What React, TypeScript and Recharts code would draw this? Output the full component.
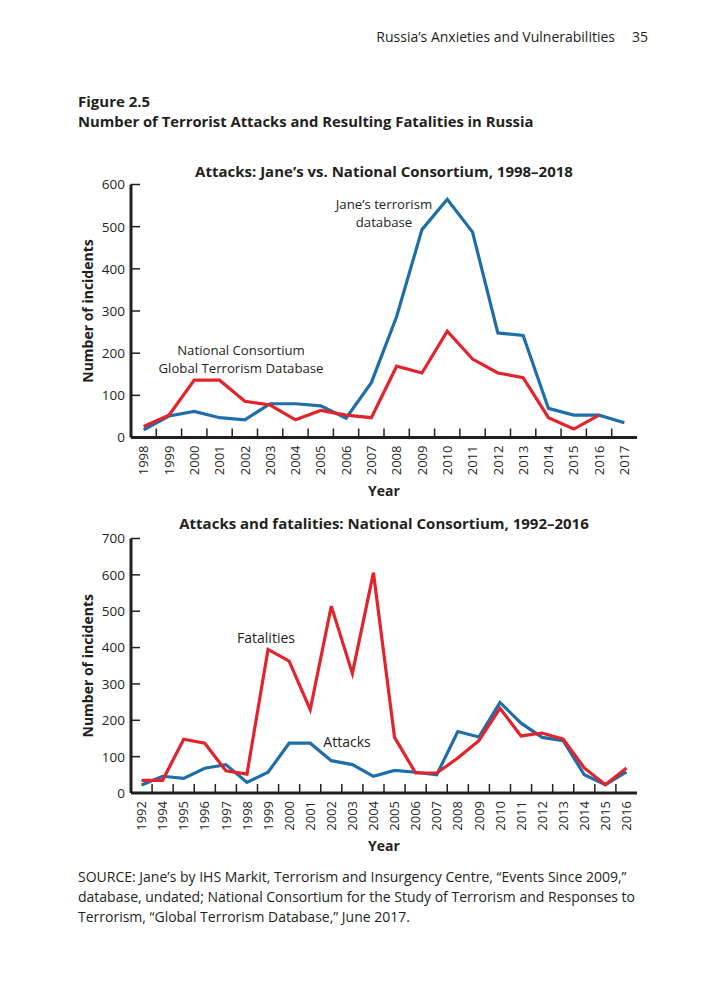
import React from 'react';
import { LineChart, Line, XAxis, YAxis } from 'recharts';

const INK = '#231f20';
const BLUE = '#1f6ea8';
const RED = '#e1242d';
const FONT = '"Open Sans", "Noto Sans", sans-serif';

// Top chart: Jane's vs. National Consortium, 1998–2017
const topYears = ['1998', '1999', '2000', '2001', '2002', '2003', '2004', '2005', '2006', '2007', '2008', '2009', '2010', '2011', '2012', '2013', '2014', '2015', '2016', '2017'];
const janesAttacks = [18, 51, 62, 47, 42, 80, 80, 75, 46, 130, 287, 493, 565, 487, 248, 242, 69, 53, 53, 35];
const gtdAttacksTop: (number | null)[] = [26, 53, 136, 136, 86, 77, 42, 64, 53, 47, 169, 153, 252, 186, 153, 142, 47, 20, 53, null];
const topYTicks = [0, 100, 200, 300, 400, 500, 600];

// Bottom chart: National Consortium attacks and fatalities, 1992–2016
const bottomYears = ['1992', '1994', '1995', '1996', '1997', '1998', '1999', '2000', '2001', '2002', '2003', '2004', '2005', '2006', '2007', '2008', '2009', '2010', '2011', '2012', '2013', '2014', '2015', '2016'];
const gtdAttacks = [22, 46, 40, 68, 78, 29, 57, 137, 137, 89, 78, 46, 62, 57, 50, 169, 154, 249, 192, 153, 144, 50, 23, 58];
const gtdFatalities = [35, 35, 148, 137, 61, 52, 395, 363, 229, 514, 329, 606, 153, 55, 55, 96, 144, 233, 157, 165, 148, 69, 23, 69];
const bottomYTicks = [0, 100, 200, 300, 400, 500, 600, 700];

const topData = topYears.map((year, i) => ({ year, janes: janesAttacks[i], gtd: gtdAttacksTop[i] }));
const bottomData = bottomYears.map((year, i) => ({ year, attacks: gtdAttacks[i], fatalities: gtdFatalities[i] }));

const PLOT_W = 506;

const makeXTick = (step: number, n: number) => (props: any) => {
  const { x, y, payload, index } = props;
  const axisY = y - 8;
  return (
    <g>
      {index < n - 1 && (
        <line x1={x + step / 2} x2={x + step / 2} y1={axisY} y2={axisY - 9} stroke={INK} strokeWidth={1.5} />
      )}
      <text
        x={x}
        y={y}
        transform={`rotate(-90, ${x}, ${y})`}
        textAnchor="end"
        dy="0.36em"
        fontSize={13}
        fill={INK}
        fontFamily={FONT}
      >
        {payload.value}
      </text>
    </g>
  );
};

const YTick = (props: any) => {
  const { x, y, payload } = props;
  const axisX = x + 6;
  return (
    <g>
      <line x1={axisX} x2={axisX + 9} y1={y} y2={y} stroke={INK} strokeWidth={1.5} />
      <text x={x} y={y} textAnchor="end" dy="0.36em" fontSize={13.5} fill={INK} fontFamily={FONT}>
        {payload.value}
      </text>
    </g>
  );
};

const abs = (s: React.CSSProperties): React.CSSProperties => ({
  position: 'absolute',
  fontFamily: FONT,
  color: INK,
  margin: 0,
  whiteSpace: 'nowrap',
  fontVariantLigatures: 'none',
  ...s,
});

function Chart(props: {
  data: any[];
  n: number;
  top: number;
  domainMax: number;
  ticks: number[];
  plotTop: number;
  plotH: number;
  series: { key: string; color: string }[];
}) {
  const { data, n, top, domainMax, ticks, plotTop, plotH, series } = props;
  const step = PLOT_W / n;
  const height = 360;
  const marginTop = plotTop - top;
  const xAxisH = 60;
  const marginBottom = height - marginTop - plotH - xAxisH;
  return (
    <div style={{ position: 'absolute', left: 0, top }}>
      <LineChart
        width={728}
        height={height}
        data={data}
        margin={{ top: marginTop, right: 91, bottom: marginBottom, left: 71 }}
      >
        <XAxis
          dataKey="year"
          type="category"
          interval={0}
          padding={{ left: step / 2, right: step / 2 }}
          height={xAxisH}
          tickSize={0}
          tickMargin={8}
          tickLine={false}
          tick={makeXTick(step, n)}
          axisLine={{ stroke: INK, strokeWidth: 3 }}
          label={{
            value: 'Year',
            position: 'insideBottom',
            offset: 2,
            style: { fontFamily: FONT, fontWeight: 700, fontSize: 14, fill: INK },
          }}
        />
        <XAxis
          xAxisId="top"
          dataKey="year"
          orientation="top"
          height={0}
          tick={false}
          tickLine={false}
          axisLine={{ stroke: INK, strokeWidth: 1.5 }}
        />
        <YAxis
          domain={[0, domainMax]}
          ticks={ticks}
          interval={0}
          width={60}
          tickSize={0}
          tickMargin={6}
          tickLine={false}
          tick={YTick}
          axisLine={{ stroke: INK, strokeWidth: 3 }}
          label={{
            value: 'Number of incidents',
            angle: -90,
            position: 'insideLeft',
            offset: 17,
            style: { textAnchor: 'middle', fontFamily: FONT, fontWeight: 700, fontSize: 14, fill: INK },
          }}
        />
        <YAxis
          yAxisId="right"
          orientation="right"
          domain={[0, domainMax]}
          width={0}
          tick={false}
          tickLine={false}
          axisLine={{ stroke: INK, strokeWidth: 1.5 }}
        />
        {series.map((s) => (
          <Line
            key={s.key}
            type="linear"
            dataKey={s.key}
            stroke={s.color}
            strokeWidth={3.2}
            dot={false}
            activeDot={false}
            isAnimationActive={false}
          />
        ))}
      </LineChart>
    </div>
  );
}

const Note = (props: { cx: number; cy: number; text: string; size?: number }) => (
  <div
    style={abs({
      left: props.cx - 130,
      width: 260,
      textAlign: 'center',
      top: props.cy - 9,
      lineHeight: '18px',
      fontSize: props.size ?? 13.2,
    })}
  >
    {props.text}
  </div>
);

export default function App() {
  return (
    <div style={{ position: 'absolute', left: 0, top: 0, width: 728, height: 994, background: '#fff', overflow: 'hidden' }}>
      <div style={abs({ right: 80, top: 27, lineHeight: '20px', fontSize: 14 })}>
        Russia’s Anxieties and Vulnerabilities<span style={{ marginLeft: 17 }}>35</span>
      </div>
      <div style={abs({ left: 78, top: 91, lineHeight: '20px', fontSize: 15, fontWeight: 700 })}>Figure 2.5</div>
      <div style={abs({ left: 78, top: 111, lineHeight: '20px', fontSize: 14.8, fontWeight: 700 })}>
        Number of Terrorist Attacks and Resulting Fatalities in Russia
      </div>

      <Chart
        data={topData}
        n={topYears.length}
        top={150}
        domainMax={600}
        ticks={topYTicks}
        plotTop={184.5}
        plotH={253}
        series={[
          { key: 'janes', color: BLUE },
          { key: 'gtd', color: RED },
        ]}
      />
      <div style={abs({ left: 131, width: PLOT_W, textAlign: 'center', top: 161, lineHeight: '20px', fontSize: 15, fontWeight: 700 })}>
        Attacks: Jane’s vs. National Consortium, 1998–2018
      </div>
      <Note cx={384} cy={204} text="Jane’s terrorism" />
      <Note cx={384} cy={222} text="database" />
      <Note cx={241} cy={350} text="National Consortium" />
      <Note cx={241} cy={368} text="Global Terrorism Database" />

      <Chart
        data={bottomData}
        n={bottomYears.length}
        top={505}
        domainMax={700}
        ticks={bottomYTicks}
        plotTop={538.5}
        plotH={254.5}
        series={[
          { key: 'attacks', color: BLUE },
          { key: 'fatalities', color: RED },
        ]}
      />
      <div style={abs({ left: 131, width: PLOT_W, textAlign: 'center', top: 513, lineHeight: '20px', fontSize: 15, fontWeight: 700 })}>
        Attacks and fatalities: National Consortium, 1992–2016
      </div>
      <Note cx={266} cy={638} text="Fatalities" size={14} />
      <Note cx={347} cy={742} text="Attacks" size={14} />

      <div style={abs({ left: 78, top: 867, lineHeight: '20px', fontSize: 14 })}>
        SOURCE: Jane’s by IHS Markit, Terrorism and Insurgency Centre, “Events Since 2009,”
        <br />
        database, undated; National Consortium for the Study of Terrorism and Responses to
        <br />
        Terrorism, “Global Terrorism Database,” June 2017.
      </div>
    </div>
  );
}
